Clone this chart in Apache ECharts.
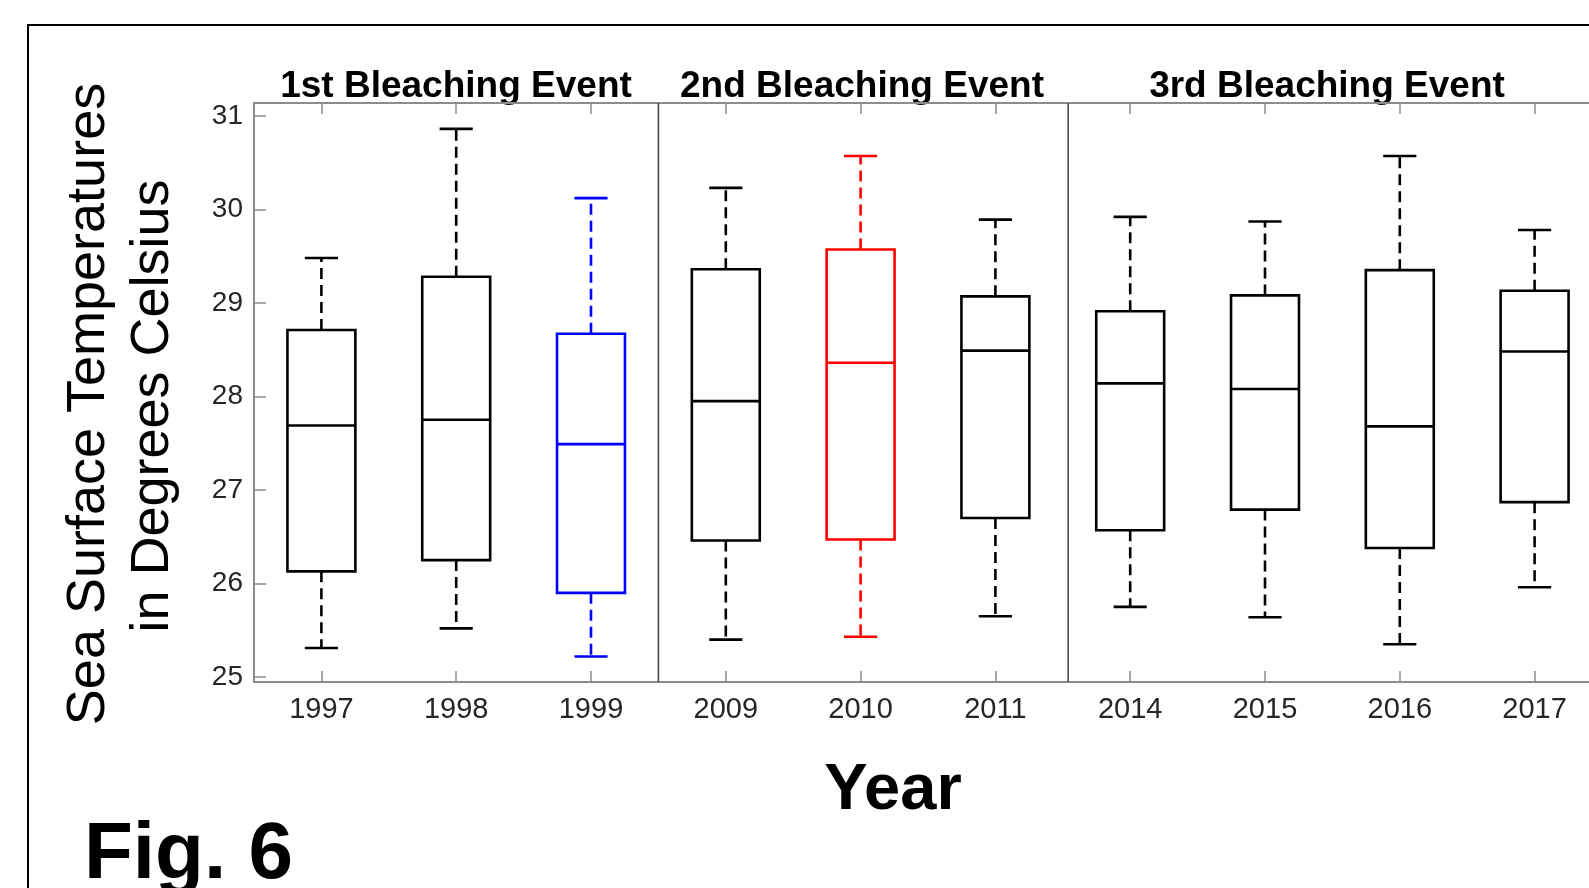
<!DOCTYPE html>
<html>
<head>
<meta charset="utf-8">
<title>Fig. 6 - Sea Surface Temperatures by Year</title>
<script src="https://cdn.jsdelivr.net/npm/echarts@6/dist/echarts.min.js"></script>
<style>
  html, body { margin: 0; padding: 0; background: #fff; overflow: hidden; }
  #chart { width: 1612px; height: 888px; }
</style>
</head>
<body>
<div id="chart"></div>
<script>
// Years shown on the x axis, grouped by bleaching event
const years = ['1997', '1998', '1999', '2009', '2010', '2011', '2014', '2015', '2016', '2017'];

// Box statistics (°C) per year
const whiskerLow  = [25.31, 25.52, 25.22, 25.40, 25.43, 25.65, 25.75, 25.64, 25.35, 25.96];
const quartile1   = [26.13, 26.25, 25.90, 26.46, 26.47, 26.70, 26.57, 26.79, 26.38, 26.87];
const medians     = [27.69, 27.75, 27.49, 27.95, 28.36, 28.49, 28.14, 28.08, 27.68, 28.48];
const quartile3   = [28.71, 29.28, 28.67, 29.36, 29.57, 29.07, 28.91, 29.08, 29.35, 29.13];
const whiskerHigh = [29.48, 30.86, 30.12, 30.23, 30.57, 29.89, 29.92, 29.87, 30.57, 29.78];

// Event group labels and the category positions of the separators between groups
const eventNames = ['1st Bleaching Event', '2nd Bleaching Event', '3rd Bleaching Event'];
const separators = [2.5, 5.54];

// Highlighted years
const yearColors = { '1999': '#0000ff', '2010': '#ff0000' };

const FONT = "'Liberation Sans', Arial, Helvetica, sans-serif";
const AXIS_GRAY = '#8c8c8c';

const boxData = years.map((y, i) => [i, whiskerLow[i], quartile1[i], medians[i], quartile3[i], whiskerHigh[i]]);
const sepData = separators.map((s, i) => [i]);

const yMin = 24.947;
const yMax = 31.137;

function renderBox(params, api) {
  const i = api.value(0);
  const color = yearColors[years[i]] || '#000000';
  const cx = api.coord([i, api.value(3)])[0];
  const band = api.size([1, 0])[0];
  const half = band * 0.252;
  const capHalf = band * 0.123;
  const yLo = api.coord([i, api.value(1)])[1];
  const yQ1 = api.coord([i, api.value(2)])[1];
  const yMed = api.coord([i, api.value(3)])[1];
  const yQ3 = api.coord([i, api.value(4)])[1];
  const yHi = api.coord([i, api.value(5)])[1];
  const solid = { stroke: color, lineWidth: 2.6, fill: null };
  const dashed = { stroke: color, lineWidth: 2.6, lineDash: [11, 6], fill: null };
  return {
    type: 'group',
    children: [
      { type: 'line', shape: { x1: cx, y1: yQ3, x2: cx, y2: yHi }, style: dashed },
      { type: 'line', shape: { x1: cx, y1: yQ1, x2: cx, y2: yLo }, style: dashed },
      { type: 'line', shape: { x1: cx - capHalf, y1: yHi, x2: cx + capHalf, y2: yHi }, style: solid },
      { type: 'line', shape: { x1: cx - capHalf, y1: yLo, x2: cx + capHalf, y2: yLo }, style: solid },
      { type: 'rect', shape: { x: cx - half, y: yQ3, width: 2 * half, height: yQ1 - yQ3 }, style: { stroke: color, lineWidth: 2.6, fill: '#ffffff' } },
      { type: 'line', shape: { x1: cx - half, y1: yMed, x2: cx + half, y2: yMed }, style: solid }
    ]
  };
}

function renderSeparator(params, api) {
  const pos = separators[params.dataIndex];
  const lo = Math.floor(pos);
  const frac = pos - lo;
  const yTop = api.coord([lo, yMax])[1];
  const yBot = api.coord([lo, yMin])[1];
  const xa = api.coord([lo, yMin])[0];
  const xb = api.coord([lo + 1, yMin])[0];
  const x = xa + (xb - xa) * frac;
  return {
    type: 'line',
    shape: { x1: x, y1: yTop, x2: x, y2: yBot },
    style: { stroke: '#4a4a4a', lineWidth: 1.6 }
  };
}

const chart = echarts.init(document.getElementById('chart'), null, { renderer: 'canvas' });

chart.setOption({
  backgroundColor: '#ffffff',
  animation: false,
  grid: { left: 254, width: 1348, top: 103, bottom: 206, containLabel: false, outerBoundsMode: 'none' },
  xAxis: [
    {
      type: 'category',
      data: years,
      position: 'bottom',
      axisLine: { show: true, onZero: false, lineStyle: { color: AXIS_GRAY, width: 2 } },
      axisTick: { show: true, inside: true, alignWithLabel: true, length: 11, lineStyle: { color: AXIS_GRAY, width: 1.5 } },
      axisLabel: { fontSize: 29, color: '#262626', fontFamily: FONT, margin: 13 },
      splitLine: { show: false }
    },
    {
      type: 'category',
      data: years,
      position: 'top',
      axisLine: { show: true, onZero: false, lineStyle: { color: AXIS_GRAY, width: 2 } },
      axisTick: { show: true, inside: true, alignWithLabel: true, length: 11, lineStyle: { color: AXIS_GRAY, width: 1.5 } },
      axisLabel: { show: false },
      splitLine: { show: false }
    }
  ],
  yAxis: {
    type: 'value',
    min: yMin,
    max: yMax,
    axisLine: { show: true, onZero: false, lineStyle: { color: AXIS_GRAY, width: 2 } },
    axisTick: { show: true, inside: true, length: 12, lineStyle: { color: AXIS_GRAY, width: 1.5 } },
    axisLabel: {
      fontSize: 28, color: '#262626', fontFamily: FONT, margin: 11,
      showMinLabel: false, showMaxLabel: false,
      formatter: v => (Math.abs(v - Math.round(v)) < 1e-6 ? String(Math.round(v)) : '')
    },
    splitLine: { show: false }
  },
  series: [
    {
      type: 'custom',
      name: 'Separators',
      xAxisIndex: 0,
      renderItem: renderSeparator,
      data: sepData,
      encode: { x: 0 },
      silent: true
    },
    {
      type: 'custom',
      name: 'SST',
      xAxisIndex: 0,
      renderItem: renderBox,
      data: boxData,
      encode: { x: 0, y: [1, 2, 3, 4, 5] }
    }
  ],
  graphic: [
    { type: 'rect', shape: { x: 28, y: 25, width: 1620, height: 900 }, style: { fill: null, stroke: '#000000', lineWidth: 2 }, z: 100 },
    { type: 'text', x: 456, y: 87, style: { text: eventNames[0], font: "bold 37px " + FONT, fill: '#000', textAlign: 'center', textVerticalAlign: 'middle' } },
    { type: 'text', x: 862, y: 87, style: { text: eventNames[1], font: "bold 37px " + FONT, fill: '#000', textAlign: 'center', textVerticalAlign: 'middle' } },
    { type: 'text', x: 1327, y: 87, style: { text: eventNames[2], font: "bold 37px " + FONT, fill: '#000', textAlign: 'center', textVerticalAlign: 'middle' } },
    { type: 'text', x: 89, y: 404, rotation: Math.PI / 2, style: { text: 'Sea Surface Temperatures', font: "54px " + FONT, fill: '#000', textAlign: 'center', textVerticalAlign: 'middle' } },
    { type: 'text', x: 153, y: 406, rotation: Math.PI / 2, style: { text: 'in Degrees Celsius', font: "54px " + FONT, fill: '#000', textAlign: 'center', textVerticalAlign: 'middle' } },
    { type: 'text', x: 893, y: 791, style: { text: 'Year', font: "bold 65px " + FONT, fill: '#000', textAlign: 'center', textVerticalAlign: 'middle' } },
    { type: 'text', x: 84, y: 856, style: { text: 'Fig. 6', font: "bold 80px " + FONT, fill: '#000', textAlign: 'left', textVerticalAlign: 'middle' } }
  ]
});
</script>
</body>
</html>
